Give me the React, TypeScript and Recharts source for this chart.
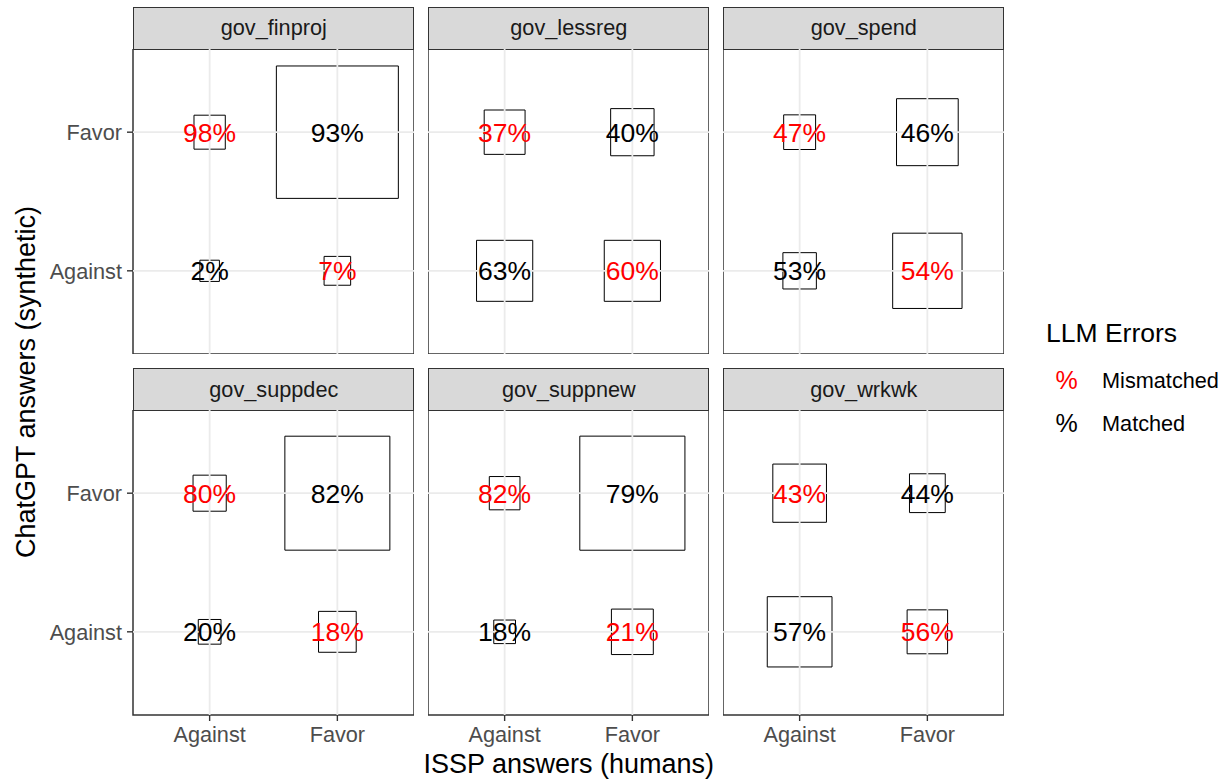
import React from "react";
import {
  ScatterChart,
  Scatter,
  XAxis,
  YAxis,
  ReferenceArea,
  ReferenceLine,
} from "recharts";

// facets, answer categories and cell values
const FACETS = ["gov_finproj", "gov_lessreg", "gov_spend", "gov_suppdec", "gov_suppnew", "gov_wrkwk"];
const ANSWERS = ["Against", "Favor"];
// cell order in each facet: (human, gpt)
const HUMAN = ["Against", "Favor", "Against", "Favor"];
const GPT = ["Favor", "Favor", "Against", "Against"];
const PCT = [
  [98, 93, 2, 7],
  [37, 40, 63, 60],
  [47, 46, 53, 54],
  [80, 82, 20, 18],
  [82, 79, 18, 21],
  [43, 44, 57, 56],
];
// tile side in axis units
const TILE = [
  [0.245, 0.955, 0.153, 0.208],
  [0.32, 0.34, 0.44, 0.44],
  [0.25, 0.483, 0.262, 0.543],
  [0.26, 0.822, 0.178, 0.295],
  [0.24, 0.823, 0.17, 0.328],
  [0.42, 0.28, 0.507, 0.317],
];

const FONT = '"Liberation Sans", Arial, Helvetica, sans-serif';
const COL_LEFT = [133.3, 428.3, 723.3];
const ROW_TOP = [48.5, 410];
const PANEL_W = 281;
const PANEL_H = 305;
const STRIP_H = 42;
const YAX_W = 100;
const XAX_H = 50;

const cellsFor = (fi: number) =>
  HUMAN.map((h, i) => ({
    x: ANSWERS.indexOf(h) + 1,
    y: ANSWERS.indexOf(GPT[i]) + 1,
    pct: PCT[fi][i],
    size: TILE[fi][i],
    matched: h === GPT[i],
  }));

const LabelShape = (p: any) => (
  <text
    x={p.cx}
    y={p.cy}
    dy="0.36em"
    textAnchor="middle"
    fontSize={26.5}
    fontFamily={FONT}
    fill={p.payload.matched ? "#000000" : "#ff0000"}
  >
    {p.payload.pct}%
  </text>
);

const tickStyle = { fill: "#4d4d4d", fontSize: 21.7, fontFamily: FONT };

function Panel({ fi }: { fi: number }) {
  const col = fi % 3;
  const row = Math.floor(fi / 3);
  const hasY = col === 0;
  const hasX = row === 1;
  const data = cellsFor(fi);
  const left = COL_LEFT[col] - (hasY ? YAX_W : 0);
  const top = ROW_TOP[row];
  return (
    <>
      <div
        style={{
          position: "absolute",
          left: COL_LEFT[col],
          top: top - STRIP_H,
          width: PANEL_W,
          height: STRIP_H + 1,
          boxSizing: "border-box",
          background: "#d9d9d9",
          border: "1.5px solid #333333",
          color: "#1a1a1a",
          fontSize: 21.7,
          fontFamily: FONT,
          display: "flex",
          alignItems: "center",
          justifyContent: "center",
        }}
      >
        {FACETS[fi]}
      </div>
      <div style={{ position: "absolute", left, top }}>
        <ScatterChart
          width={PANEL_W + (hasY ? YAX_W : 0)}
          height={PANEL_H + (hasX ? XAX_H : 0)}
          margin={{ top: 0, right: 0, bottom: 0, left: 0 }}
        >
          <XAxis
            type="number"
            dataKey="x"
            domain={[0.4, 2.6]}
            ticks={[1, 2]}
            interval={0}
            allowDataOverflow
            hide={!hasX}
            height={XAX_H}
            axisLine={false}
            tickLine={{ stroke: "#333333", strokeWidth: 1.4 }}
            tickSize={6}
            tickMargin={6}
            tick={tickStyle}
            tickFormatter={(v: number) => ANSWERS[v - 1]}
          />
          <YAxis
            type="number"
            dataKey="y"
            domain={[0.4, 2.6]}
            ticks={[1, 2]}
            interval={0}
            allowDataOverflow
            hide={!hasY}
            width={YAX_W}
            axisLine={false}
            tickLine={{ stroke: "#333333", strokeWidth: 1.4 }}
            tickSize={6}
            tickMargin={5}
            tick={tickStyle}
            tickFormatter={(v: number) => ANSWERS[v - 1]}
          />
          {[1, 2].map((v) => (
            <ReferenceLine key={"gx" + v} x={v} stroke="#ebebeb" strokeWidth={1.8} />
          ))}
          {[1, 2].map((v) => (
            <ReferenceLine key={"gy" + v} y={v} stroke="#ebebeb" strokeWidth={1.8} />
          ))}
          {data.map((d, i) => (
            <ReferenceArea
              key={"t" + i}
              x1={d.x - d.size / 2}
              x2={d.x + d.size / 2}
              y1={d.y - d.size / 2}
              y2={d.y + d.size / 2}
              fill="none"
              fillOpacity={0}
              stroke="#000000"
              strokeWidth={1}
              ifOverflow="visible"
            />
          ))}
          <Scatter data={data} shape={LabelShape} isAnimationActive={false} />
          <ReferenceArea
            x1={0.4}
            x2={2.6}
            y1={0.4}
            y2={2.6}
            fill="none"
            fillOpacity={0}
            stroke="#333333"
            strokeWidth={1.5}
            ifOverflow="visible"
          />
        </ScatterChart>
      </div>
    </>
  );
}

export default function App() {
  return (
    <div
      style={{
        position: "absolute",
        left: 0,
        top: 0,
        width: 1230,
        height: 784,
        background: "#ffffff",
        fontFamily: FONT,
      }}
    >
      {FACETS.map((f, i) => (
        <Panel key={f} fi={i} />
      ))}
      <svg
        width={1230}
        height={784}
        style={{ position: "absolute", left: 0, top: 0, pointerEvents: "none" }}
      >
        <text
          x={568.7}
          y={773}
          textAnchor="middle"
          fontSize={27}
          fontFamily={FONT}
          fill="#000000"
        >
          ISSP answers (humans)
        </text>
        <text
          transform="translate(35,382) rotate(-90)"
          textAnchor="middle"
          fontSize={27}
          fontFamily={FONT}
          fill="#000000"
        >
          ChatGPT answers (synthetic)
        </text>
        <text x={1046} y={342} fontSize={26.5} fontFamily={FONT} fill="#000000">
          LLM Errors
        </text>
        <text x={1066.5} y={389} textAnchor="middle" fontSize={25} fontFamily={FONT} fill="#ff0000">
          %
        </text>
        <text x={1102} y={388} fontSize={21.7} fontFamily={FONT} fill="#000000">
          Mismatched
        </text>
        <text x={1066.5} y={432} textAnchor="middle" fontSize={25} fontFamily={FONT} fill="#000000">
          %
        </text>
        <text x={1102} y={431} fontSize={21.7} fontFamily={FONT} fill="#000000">
          Matched
        </text>
      </svg>
    </div>
  );
}
